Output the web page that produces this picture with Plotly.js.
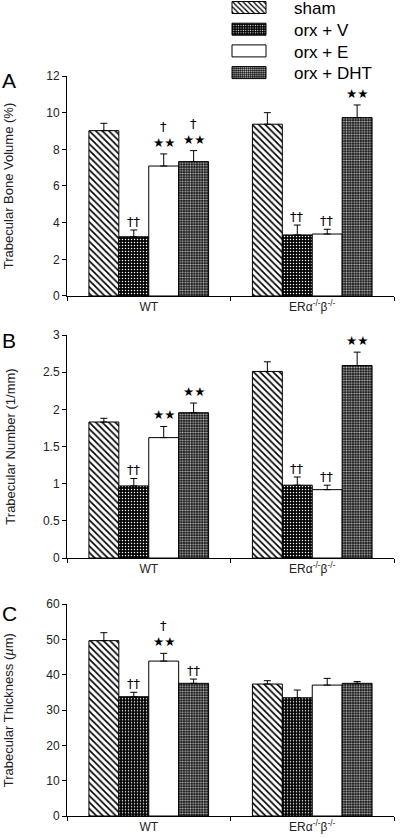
<!DOCTYPE html>
<html><head><meta charset="utf-8">
<script src="https://cdn.plot.ly/plotly-3.0.1.min.js"></script>
<style>body{margin:0;background:#fff}</style>
</head><body><div id="chart" style="width:400px;height:838px"></div>
<script>
const groups = ["WT", "ERα<sup>-/-</sup>β<sup>-/-</sup>"];
const seriesNames = ["sham", "orx + V", "orx + E", "orx + DHT"];

// Panel A: Trabecular Bone Volume (%), per series [WT, ERα-/-β-/-]
const bvSham = [9.02, 9.37], bvShamSem = [0.40, 0.63];
const bvV    = [3.23, 3.33], bvVSem    = [0.37, 0.54];
const bvE    = [7.09, 3.38], bvESem    = [0.66, 0.26];
const bvDHT  = [7.33, 9.73], bvDHTSem  = [0.60, 0.69];
const bvStars   = [[0, 0], [0, 0], [2, 0], [2, 2]];
const bvDaggers = [[0, 0], [2, 2], [1, 2], [1, 0]];

// Panel B: Trabecular Number (1/mm)
const tnSham = [1.83, 2.51], tnShamSem = [0.05, 0.13];
const tnV    = [0.97, 0.98], tnVSem    = [0.10, 0.11];
const tnE    = [1.62, 0.92], tnESem    = [0.15, 0.06];
const tnDHT  = [1.955, 2.59], tnDHTSem = [0.13, 0.18];
const tnStars   = [[0, 0], [0, 0], [2, 0], [2, 2]];
const tnDaggers = [[0, 0], [2, 2], [0, 2], [0, 0]];

// Panel C: Trabecular Thickness (µm)
const ttSham = [49.7, 37.4], ttShamSem = [2.25, 0.95];
const ttV    = [33.8, 33.5], ttVSem    = [1.25, 2.2];
const ttE    = [43.9, 37.1], ttESem    = [2.2, 1.9];
const ttDHT  = [37.6, 37.6], ttDHTSem  = [1.2, 0.5];
const ttStars   = [[0, 0], [0, 0], [2, 0], [0, 0]];
const ttDaggers = [[0, 0], [2, 0], [1, 0], [2, 0]];

const patterns = [
  {shape: "\\", size: 4.6, solidity: 0.36, fgcolor: "#000", bgcolor: "#fff"},
  {shape: ".", size: 3, solidity: 0.2, fgcolor: "#fff", bgcolor: "#000"},
  {shape: "", fgcolor: "#fff", bgcolor: "#fff"},
  {shape: ".", size: 2.6, solidity: 0.4, fgcolor: "#c4c4c4", bgcolor: "#111"}
];

const panels = [
  {vals: [bvSham, bvV, bvE, bvDHT], sems: [bvShamSem, bvVSem, bvESem, bvDHTSem], stars: bvStars, daggers: bvDaggers, ax: ""},
  {vals: [tnSham, tnV, tnE, tnDHT], sems: [tnShamSem, tnVSem, tnESem, tnDHTSem], stars: tnStars, daggers: tnDaggers, ax: "2"},
  {vals: [ttSham, ttV, ttE, ttDHT], sems: [ttShamSem, ttVSem, ttESem, ttDHTSem], stars: ttStars, daggers: ttDaggers, ax: "3"}
];

const bargap = 0.268;
const barW = (1 - bargap) / 4;
const FONT = "Liberation Sans, Arial, sans-serif";

const traces = [];
const annotations = [];
panels.forEach((p, pi) => {
  p.vals.forEach((v, si) => {
    const pat = patterns[si];
    traces.push({
      type: "bar", x: groups, y: v, name: seriesNames[si],
      xaxis: "x" + p.ax, yaxis: "y" + p.ax,
      showlegend: pi === 0,
      marker: {
        color: pat.bgcolor,
        line: {color: "#000", width: 1},
        pattern: pat.shape ? {shape: pat.shape, size: pat.size, solidity: pat.solidity, fgcolor: pat.fgcolor, bgcolor: pat.bgcolor, fillmode: "replace"} : undefined
      },
      error_y: {type: "data", symmetric: false, array: p.sems[si], arrayminus: v.map(() => 0), color: "#000", thickness: 1, width: 3.5},
      hoverinfo: "skip"
    });
    v.forEach((val, gi) => {
      const top = val + p.sems[si][gi];
      const xpos = gi + (si - 1.5) * barW;
      const ns = p.stars[si][gi], nd = p.daggers[si][gi];
      if (ns) annotations.push({xref: "x" + p.ax, yref: "y" + p.ax, x: xpos, y: top, yanchor: "bottom", yshift: 2,
        text: "★".repeat(ns), showarrow: false, font: {family: "DejaVu Sans", size: 12.5, color: "#000"}});
      if (nd) annotations.push({xref: "x" + p.ax, yref: "y" + p.ax, x: xpos, y: top, yanchor: "bottom", yshift: ns ? 18 : -1,
        text: "†".repeat(nd), showarrow: false, font: {family: "DejaVu Sans", size: 13, color: "#000"}});
    });
  });
});

const letters = [["A", 67], ["B", 327], ["C", 600]];
letters.forEach(([t, py]) => annotations.push({xref: "paper", yref: "paper", x: -0.205, y: 1 - py / 838,
  xanchor: "left", yanchor: "top", text: t, showarrow: false, font: {family: FONT, size: 21, color: "#000"}}));

const yTitles = ["Trabecular Bone Volume (%)", "Trabecular Number (1/mm)", "Trabecular Thickness (<i>µ</i>m)"];
const yRanges = [[0, 12], [0, 3], [0, 60]];
const yDticks = [2, 0.5, 10];
const yDomains = [[0.6468, 0.9093], [0.3341, 0.6002], [0.02625, 0.2789]];
const standoffs = [29, 24, 29];

const layout = {
  width: 400, height: 838,
  margin: {l: 67, r: 6, t: 0, b: 0},
  paper_bgcolor: "#fff", plot_bgcolor: "#fff",
  barmode: "group", bargap: bargap, bargroupgap: 0,
  font: {family: FONT, size: 12, color: "#222"},
  showlegend: true,
  legend: {x: 0.48, y: 1.0, xanchor: "left", yanchor: "top", font: {family: FONT, size: 17, color: "#000"}, bgcolor: "rgba(0,0,0,0)", itemwidth: 60},
  annotations: annotations
};
[0, 1, 2].forEach(i => {
  const s = i === 0 ? "" : String(i + 1);
  layout["xaxis" + s] = {domain: [0, 1], anchor: "y" + s, range: [-0.5, 1.5], showline: true, linecolor: "#000", linewidth: 1,
    ticks: "outside", tickson: "boundaries", ticklen: 4, tickcolor: "#000", showgrid: false, zeroline: false,
    tickfont: {family: FONT, size: 12, color: "#222"}, fixedrange: true};
  layout["yaxis" + s] = {domain: yDomains[i], anchor: "x" + s, range: yRanges[i], dtick: yDticks[i], showline: true, linecolor: "#000", linewidth: 1,
    ticks: "outside", ticklen: 4, tickcolor: "#000", showgrid: false, zeroline: false,
    tickfont: {family: FONT, size: 12, color: "#222"},
    title: {text: yTitles[i], font: {family: FONT, size: 13, color: "#222"}, standoff: standoffs[i]}, fixedrange: true};
});

// legend geometry (page px): swatch centre x, text start x, row centres
const legendSwatchCx = 249, legendTextX = 294, legendRowY0 = 7.5, legendRowStep = 21.7;

Plotly.newPlot("chart", traces, layout, {staticPlot: true}).then(gd => {
  const sb = gd.querySelector(".legend .scrollbox");
  if (sb) sb.removeAttribute("clip-path");
  const legendG = gd.querySelector(".legend");
  const lm = legendG.getCTM();
  gd.querySelectorAll(".legend .traces").forEach((tr, i) => {
    const txt = tr.querySelector("text.legendtext");
    const tx0 = txt.getBBox().x;
    const trm = tr.getCTM();
    const curX = trm.e - lm.e;
    const dx = legendTextX - (trm.e + tx0);
    tr.setAttribute("transform", `translate(${curX + dx},${legendRowY0 + i * legendRowStep - lm.f})`);
    const path = tr.querySelector(".legendpoints path");
    if (path) {
      const pm = path.getCTM();
      const cx = legendSwatchCx - pm.e;
      path.setAttribute("d", `M${cx - 17},-6H${cx + 17}V6H${cx - 17}Z`);
    }
  });
});
</script></body></html>
